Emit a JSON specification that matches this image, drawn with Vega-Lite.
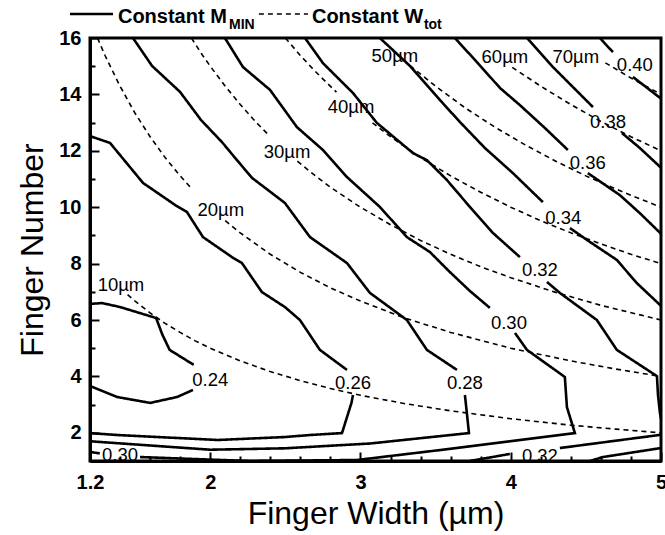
{
  "$schema": "https://vega.github.io/schema/vega-lite/v6.json",
  "width": 571,
  "height": 423,
  "autosize": {"type": "none"},
  "padding": {"left": 90, "top": 38, "right": 4, "bottom": 74},
  "background": "white",
  "config": {
    "view": {"stroke": "black", "strokeWidth": 3},
    "font": "Liberation Sans",
    "axis": {
      "labelFont": "Liberation Sans", "labelFontSize": 20, "labelFontWeight": "bold", "labelColor": "black",
      "titleFont": "Liberation Sans", "titleFontSize": 32, "titleFontWeight": "normal", "titleColor": "black",
      "domainColor": "black", "domainWidth": 3, "tickColor": "black", "tickWidth": 2, "grid": false,
      "labelFlush": false, "labelOverlap": false
    }
  },
  "datasets": {
    "lines": [
      {"s":"m24a","k":"M","w":1.2,"n":6.57},{"s":"m24a","k":"M","w":1.28,"n":6.6},{"s":"m24a","k":"M","w":1.4,"n":6.46},{"s":"m24a","k":"M","w":1.64,"n":6.07},{"s":"m24a","k":"M","w":1.68,"n":5.5},{"s":"m24a","k":"M","w":1.73,"n":4.94},{"s":"m24a","k":"M","w":1.89,"n":4.41},
      {"s":"m24b","k":"M","w":1.2,"n":3.66},{"s":"m24b","k":"M","w":1.38,"n":3.27},{"s":"m24b","k":"M","w":1.6,"n":3.06},{"s":"m24b","k":"M","w":1.78,"n":3.27},{"s":"m24b","k":"M","w":1.885,"n":3.52},
      {"s":"m26a","k":"M","w":1.2,"n":12.52},{"s":"m26a","k":"M","w":1.333,"n":12.28},{"s":"m26a","k":"M","w":1.553,"n":10.86},{"s":"m26a","k":"M","w":1.766,"n":10.08},{"s":"m26a","k":"M","w":1.845,"n":9.83},{"s":"m26a","k":"M","w":1.952,"n":8.94},{"s":"m26a","k":"M","w":2.145,"n":8.23},{"s":"m26a","k":"M","w":2.211,"n":8.02},{"s":"m26a","k":"M","w":2.344,"n":6.99},{"s":"m26a","k":"M","w":2.497,"n":6.46},{"s":"m26a","k":"M","w":2.597,"n":6.0},{"s":"m26a","k":"M","w":2.73,"n":4.94},{"s":"m26a","k":"M","w":2.91,"n":4.23},
      {"s":"m26b","k":"M","w":2.95,"n":3.34},{"s":"m26b","k":"M","w":2.94,"n":3.06},{"s":"m26b","k":"M","w":2.877,"n":1.99},{"s":"m26b","k":"M","w":2.66,"n":1.92},{"s":"m26b","k":"M","w":2.497,"n":1.85},{"s":"m26b","k":"M","w":2.05,"n":1.745},{"s":"m26b","k":"M","w":1.386,"n":1.92},{"s":"m26b","k":"M","w":1.2,"n":1.99},
      {"s":"m28a","k":"M","w":1.486,"n":16.0},{"s":"m28a","k":"M","w":1.613,"n":15.01},{"s":"m28a","k":"M","w":1.799,"n":14.09},{"s":"m28a","k":"M","w":1.939,"n":13.09},{"s":"m28a","k":"M","w":2.078,"n":12.31},{"s":"m28a","k":"M","w":2.178,"n":11.67},{"s":"m28a","k":"M","w":2.278,"n":11.04},{"s":"m28a","k":"M","w":2.497,"n":10.15},{"s":"m28a","k":"M","w":2.664,"n":8.94},{"s":"m28a","k":"M","w":2.91,"n":8.02},{"s":"m28a","k":"M","w":3.063,"n":6.96},{"s":"m28a","k":"M","w":3.309,"n":6.0},{"s":"m28a","k":"M","w":3.442,"n":4.94},{"s":"m28a","k":"M","w":3.642,"n":4.23},
      {"s":"m28b","k":"M","w":3.695,"n":3.34},{"s":"m28b","k":"M","w":3.708,"n":2.7},{"s":"m28b","k":"M","w":3.722,"n":1.99},{"s":"m28b","k":"M","w":3.063,"n":1.62},{"s":"m28b","k":"M","w":2.497,"n":1.45},{"s":"m28b","k":"M","w":2.0,"n":1.4},{"s":"m28b","k":"M","w":1.2,"n":1.7},
      {"s":"m30a","k":"M","w":2.098,"n":16.0},{"s":"m30a","k":"M","w":2.218,"n":14.97},{"s":"m30a","k":"M","w":2.398,"n":14.16},{"s":"m30a","k":"M","w":2.577,"n":12.84},{"s":"m30a","k":"M","w":2.75,"n":12.03},{"s":"m30a","k":"M","w":2.91,"n":11.07},{"s":"m30a","k":"M","w":3.129,"n":10.01},{"s":"m30a","k":"M","w":3.309,"n":8.94},{"s":"m30a","k":"M","w":3.462,"n":8.41},{"s":"m30a","k":"M","w":3.595,"n":7.7},{"s":"m30a","k":"M","w":3.728,"n":7.03},{"s":"m30a","k":"M","w":3.861,"n":6.43},
      {"s":"m30b","k":"M","w":4.028,"n":5.54},{"s":"m30b","k":"M","w":4.108,"n":4.94},{"s":"m30b","k":"M","w":4.36,"n":3.98},{"s":"m30b","k":"M","w":4.374,"n":2.91},{"s":"m30b","k":"M","w":4.427,"n":1.99},{"s":"m30b","k":"M","w":3.595,"n":1.43},{"s":"m30b","k":"M","w":2.976,"n":1.035},{"s":"m30b","k":"M","w":2.265,"n":1.0},{"s":"m30b","k":"M","w":1.533,"n":1.14},
      {"s":"m30c","k":"M","w":1.2,"n":1.32},{"s":"m30c","k":"M","w":1.265,"n":1.27},
      {"s":"m32a","k":"M","w":2.631,"n":16.0},{"s":"m32a","k":"M","w":2.75,"n":15.11},{"s":"m32a","k":"M","w":2.95,"n":14.05},{"s":"m32a","k":"M","w":3.109,"n":12.99},{"s":"m32a","k":"M","w":3.349,"n":11.92},{"s":"m32a","k":"M","w":3.442,"n":11.67},{"s":"m32a","k":"M","w":3.575,"n":10.965},{"s":"m32a","k":"M","w":3.728,"n":10.01},{"s":"m32a","k":"M","w":3.881,"n":9.09},{"s":"m32a","k":"M","w":4.061,"n":8.23},
      {"s":"m32b","k":"M","w":4.241,"n":7.35},{"s":"m32b","k":"M","w":4.327,"n":6.96},{"s":"m32b","k":"M","w":4.573,"n":6.0},{"s":"m32b","k":"M","w":4.706,"n":4.94},{"s":"m32b","k":"M","w":4.973,"n":4.01},{"s":"m32b","k":"M","w":4.98,"n":3.34},{"s":"m32b","k":"M","w":4.993,"n":2.7},{"s":"m32b","k":"M","w":5.0,"n":2.5},
      {"s":"m32c","k":"M","w":3.728,"n":1.0},{"s":"m32c","k":"M","w":3.994,"n":1.25},
      {"s":"m32d","k":"M","w":4.327,"n":1.46},{"s":"m32d","k":"M","w":5.0,"n":1.93},
      {"s":"m34a","k":"M","w":3.129,"n":16.0},{"s":"m34a","k":"M","w":3.329,"n":15.01},{"s":"m34a","k":"M","w":3.529,"n":13.8},{"s":"m34a","k":"M","w":3.662,"n":13.02},{"s":"m34a","k":"M","w":3.828,"n":12.1},{"s":"m34a","k":"M","w":4.014,"n":11.21},{"s":"m34a","k":"M","w":4.214,"n":10.18},
      {"s":"m34b","k":"M","w":4.394,"n":9.26},{"s":"m34b","k":"M","w":4.507,"n":8.84},{"s":"m34b","k":"M","w":4.706,"n":8.13},{"s":"m34b","k":"M","w":4.839,"n":7.31},{"s":"m34b","k":"M","w":5.0,"n":6.5},
      {"s":"m34c","k":"M","w":4.527,"n":1.0},{"s":"m34c","k":"M","w":4.613,"n":1.14},{"s":"m34c","k":"M","w":5.0,"n":1.46},
      {"s":"m36a","k":"M","w":3.628,"n":16.0},{"s":"m36a","k":"M","w":3.781,"n":15.11},{"s":"m36a","k":"M","w":3.928,"n":14.23},{"s":"m36a","k":"M","w":4.061,"n":13.62},{"s":"m36a","k":"M","w":4.227,"n":12.81},{"s":"m36a","k":"M","w":4.38,"n":12.03},
      {"s":"m36b","k":"M","w":4.513,"n":11.21},{"s":"m36b","k":"M","w":4.726,"n":10.43},{"s":"m36b","k":"M","w":4.859,"n":9.79},{"s":"m36b","k":"M","w":5.0,"n":9.06},
      {"s":"m38a","k":"M","w":4.108,"n":16.0},{"s":"m38a","k":"M","w":4.281,"n":14.97},{"s":"m38a","k":"M","w":4.414,"n":14.26},{"s":"m38a","k":"M","w":4.547,"n":13.55},
      {"s":"m38b","k":"M","w":4.74,"n":12.63},{"s":"m38b","k":"M","w":4.859,"n":12.1},{"s":"m38b","k":"M","w":5.0,"n":11.4},
      {"s":"m40a","k":"M","w":4.593,"n":16.0},{"s":"m40a","k":"M","w":4.68,"n":15.5},
      {"s":"m40b","k":"M","w":4.813,"n":14.62},{"s":"m40b","k":"M","w":5.0,"n":13.85},
      {"s":"w10","k":"W","w":1.45,"n":6.9},{"s":"w10","k":"W","w":1.5,"n":6.67},{"s":"w10","k":"W","w":1.6,"n":6.25},{"s":"w10","k":"W","w":1.7,"n":5.88},{"s":"w10","k":"W","w":1.8,"n":5.56},{"s":"w10","k":"W","w":1.9,"n":5.26},{"s":"w10","k":"W","w":2.0,"n":5.0},{"s":"w10","k":"W","w":2.2,"n":4.55},{"s":"w10","k":"W","w":2.4,"n":4.17},{"s":"w10","k":"W","w":2.6,"n":3.85},{"s":"w10","k":"W","w":2.8,"n":3.57},{"s":"w10","k":"W","w":3.0,"n":3.33},{"s":"w10","k":"W","w":3.3,"n":3.03},{"s":"w10","k":"W","w":3.6,"n":2.78},{"s":"w10","k":"W","w":4.0,"n":2.5},{"s":"w10","k":"W","w":4.4,"n":2.27},{"s":"w10","k":"W","w":4.7,"n":2.13},{"s":"w10","k":"W","w":5.0,"n":2.0},
      {"s":"w20a","k":"W","w":1.25,"n":16.0},{"s":"w20a","k":"W","w":1.3,"n":15.38},{"s":"w20a","k":"W","w":1.4,"n":14.29},{"s":"w20a","k":"W","w":1.5,"n":13.33},{"s":"w20a","k":"W","w":1.6,"n":12.5},{"s":"w20a","k":"W","w":1.7,"n":11.76},{"s":"w20a","k":"W","w":1.8,"n":11.11},{"s":"w20a","k":"W","w":1.88,"n":10.64},
      {"s":"w20b","k":"W","w":2.1,"n":9.52},{"s":"w20b","k":"W","w":2.2,"n":9.09},{"s":"w20b","k":"W","w":2.4,"n":8.33},{"s":"w20b","k":"W","w":2.6,"n":7.69},{"s":"w20b","k":"W","w":2.8,"n":7.14},{"s":"w20b","k":"W","w":3.0,"n":6.67},{"s":"w20b","k":"W","w":3.3,"n":6.06},{"s":"w20b","k":"W","w":3.6,"n":5.56},{"s":"w20b","k":"W","w":4.0,"n":5.0},{"s":"w20b","k":"W","w":4.4,"n":4.55},{"s":"w20b","k":"W","w":4.7,"n":4.26},{"s":"w20b","k":"W","w":5.0,"n":4.0},
      {"s":"w30a","k":"W","w":1.875,"n":16.0},{"s":"w30a","k":"W","w":1.95,"n":15.38},{"s":"w30a","k":"W","w":2.0,"n":15.0},{"s":"w30a","k":"W","w":2.1,"n":14.29},{"s":"w30a","k":"W","w":2.2,"n":13.64},{"s":"w30a","k":"W","w":2.3,"n":13.04},{"s":"w30a","k":"W","w":2.38,"n":12.61},
      {"s":"w30b","k":"W","w":2.58,"n":11.63},{"s":"w30b","k":"W","w":2.7,"n":11.11},{"s":"w30b","k":"W","w":2.8,"n":10.71},{"s":"w30b","k":"W","w":3.0,"n":10.0},{"s":"w30b","k":"W","w":3.2,"n":9.38},{"s":"w30b","k":"W","w":3.4,"n":8.82},{"s":"w30b","k":"W","w":3.6,"n":8.33},{"s":"w30b","k":"W","w":3.8,"n":7.89},{"s":"w30b","k":"W","w":4.0,"n":7.5},{"s":"w30b","k":"W","w":4.3,"n":6.98},{"s":"w30b","k":"W","w":4.6,"n":6.52},{"s":"w30b","k":"W","w":5.0,"n":6.0},
      {"s":"w40a","k":"W","w":2.5,"n":16.0},{"s":"w40a","k":"W","w":2.6,"n":15.38},{"s":"w40a","k":"W","w":2.7,"n":14.81},{"s":"w40a","k":"W","w":2.84,"n":14.08},
      {"s":"w40b","k":"W","w":3.08,"n":12.99},{"s":"w40b","k":"W","w":3.2,"n":12.5},{"s":"w40b","k":"W","w":3.4,"n":11.76},{"s":"w40b","k":"W","w":3.6,"n":11.11},{"s":"w40b","k":"W","w":3.8,"n":10.53},{"s":"w40b","k":"W","w":4.0,"n":10.0},{"s":"w40b","k":"W","w":4.2,"n":9.52},{"s":"w40b","k":"W","w":4.4,"n":9.09},{"s":"w40b","k":"W","w":4.6,"n":8.7},{"s":"w40b","k":"W","w":4.8,"n":8.33},{"s":"w40b","k":"W","w":5.0,"n":8.0},
      {"s":"w50","k":"W","w":3.33,"n":15.02},{"s":"w50","k":"W","w":3.5,"n":14.29},{"s":"w50","k":"W","w":3.7,"n":13.51},{"s":"w50","k":"W","w":3.9,"n":12.82},{"s":"w50","k":"W","w":4.1,"n":12.2},{"s":"w50","k":"W","w":4.3,"n":11.63},{"s":"w50","k":"W","w":4.5,"n":11.11},{"s":"w50","k":"W","w":4.75,"n":10.53},{"s":"w50","k":"W","w":5.0,"n":10.0},
      {"s":"w60","k":"W","w":4.01,"n":14.96},{"s":"w60","k":"W","w":4.2,"n":14.29},{"s":"w60","k":"W","w":4.4,"n":13.64},{"s":"w60","k":"W","w":4.6,"n":13.04},{"s":"w60","k":"W","w":4.8,"n":12.5},{"s":"w60","k":"W","w":5.0,"n":12.0},
      {"s":"w70","k":"W","w":4.63,"n":15.12},{"s":"w70","k":"W","w":4.8,"n":14.58},{"s":"w70","k":"W","w":5.0,"n":14.0}
    ],
    "labels": [
      {"t":"0.24","w":2.0,"n":3.87},{"t":"0.26","w":2.95,"n":3.77},{"t":"0.28","w":3.695,"n":3.77},
      {"t":"0.30","w":3.988,"n":5.89},{"t":"0.32","w":4.194,"n":7.77},{"t":"0.34","w":4.35,"n":9.62},
      {"t":"0.36","w":4.513,"n":11.57},{"t":"0.38","w":4.647,"n":13.02},{"t":"0.40","w":4.826,"n":15.04},
      {"t":"0.30","w":1.4,"n":1.21},{"t":"0.32","w":4.194,"n":1.17},
      {"t":"10µm","w":1.406,"n":7.24},{"t":"20µm","w":2.07,"n":9.9},{"t":"30µm","w":2.511,"n":11.96},
      {"t":"40µm","w":2.937,"n":13.55},{"t":"50µm","w":3.229,"n":15.36},{"t":"60µm","w":3.961,"n":15.33},{"t":"70µm","w":4.433,"n":15.33}
    ]
  },
  "layer": [
    {
      "encoding": {
        "x": {"field": "w", "type": "quantitative", "scale": {"domain": [1.2, 5], "nice": false, "zero": false},
          "axis": {"title": "Finger Width (µm)",
            "values": [1.2,1.4,1.6,1.8,2,2.2,2.4,2.6,2.8,3,3.2,3.4,3.6,3.8,4,4.2,4.4,4.6,4.8,5],
            "labelExpr": "abs(datum.value-1.2)<0.01 ? '1.2' : (abs(datum.value-round(datum.value))<0.01 ? toString(round(datum.value)) : '')",
            "tickSize": {"condition": {"test": "abs(datum.value-1.2)<0.01 || abs(datum.value-round(datum.value))<0.01", "value": -9}, "value": -5},
            "labelPadding": 20, "titlePadding": 2}},
        "y": {"field": "n", "type": "quantitative", "scale": {"domain": [1, 16], "nice": false, "zero": false},
          "axis": {"title": "Finger Number",
            "values": [1,2,3,4,5,6,7,8,9,10,11,12,13,14,15,16],
            "labelExpr": "datum.value % 2 == 0 ? toString(datum.value) : ''",
            "tickSize": {"condition": {"test": "datum.value % 2 == 0", "value": -9}, "value": -5},
            "labelPadding": 18, "titlePadding": 9}}
      },
      "layer": [
        {
          "data": {"name": "lines"},
          "mark": {"type": "line", "color": "black", "clip": true},
          "encoding": {
            "detail": {"field": "s", "type": "nominal"},
            "order": {"value": null},
            "strokeDash": {"field": "k", "type": "nominal", "scale": {"domain": ["M", "W"], "range": [[1, 0], [5, 4]]}, "legend": null},
            "strokeWidth": {"field": "k", "type": "nominal", "scale": {"domain": ["M", "W"], "range": [2.6, 1.6]}, "legend": null}
          }
        },
        {
          "data": {"name": "labels"},
          "mark": {"type": "text", "fontSize": 18.5, "font": "Liberation Sans", "color": "black", "align": "center", "baseline": "middle", "clip": true},
          "encoding": {"text": {"field": "t", "type": "nominal"}}
        }
      ]
    },
    {
      "data": {"values": [{}]},
      "mark": {"type": "rule", "color": "black", "strokeWidth": 2.6, "clip": false},
      "encoding": {"x": {"value": {"expr": "scale('x', 1.067)"}}, "x2": {"value": {"expr": "scale('x', 1.353)"}}, "y": {"value": {"expr": "scale('y', 16.851)"}}}
    },
    {
      "data": {"values": [{}]},
      "mark": {"type": "rule", "color": "black", "strokeWidth": 1.6, "strokeDash": [5, 4], "clip": false},
      "encoding": {"x": {"value": {"expr": "scale('x', 2.324)"}}, "x2": {"value": {"expr": "scale('x', 2.65)"}}, "y": {"value": {"expr": "scale('y', 16.851)"}}}
    },
    {
      "data": {"values": [{}]},
      "mark": {"type": "text", "text": "Constant M", "align": "left", "baseline": "alphabetic", "fontSize": 20, "fontWeight": "bold", "font": "Liberation Sans", "color": "black", "clip": false,
        "x": {"expr": "scale('x', 1.386)"}, "y": {"expr": "scale('y', 16.532)"}},
      "encoding": {}
    },
    {
      "data": {"values": [{}]},
      "mark": {"type": "text", "text": "MIN", "align": "left", "baseline": "alphabetic", "fontSize": 14, "fontWeight": "bold", "font": "Liberation Sans", "color": "black", "clip": false,
        "x": {"expr": "scale('x', 2.125)"}, "y": {"expr": "scale('y', 16.32)"}},
      "encoding": {}
    },
    {
      "data": {"values": [{}]},
      "mark": {"type": "text", "text": "Constant W", "align": "left", "baseline": "alphabetic", "fontSize": 20, "fontWeight": "bold", "font": "Liberation Sans", "color": "black", "clip": false,
        "x": {"expr": "scale('x', 2.677)"}, "y": {"expr": "scale('y', 16.532)"}},
      "encoding": {}
    },
    {
      "data": {"values": [{}]},
      "mark": {"type": "text", "text": "tot", "align": "left", "baseline": "alphabetic", "fontSize": 14, "fontWeight": "bold", "font": "Liberation Sans", "color": "black", "clip": false,
        "x": {"expr": "scale('x', 3.422)"}, "y": {"expr": "scale('y', 16.32)"}},
      "encoding": {}
    }
  ]
}
